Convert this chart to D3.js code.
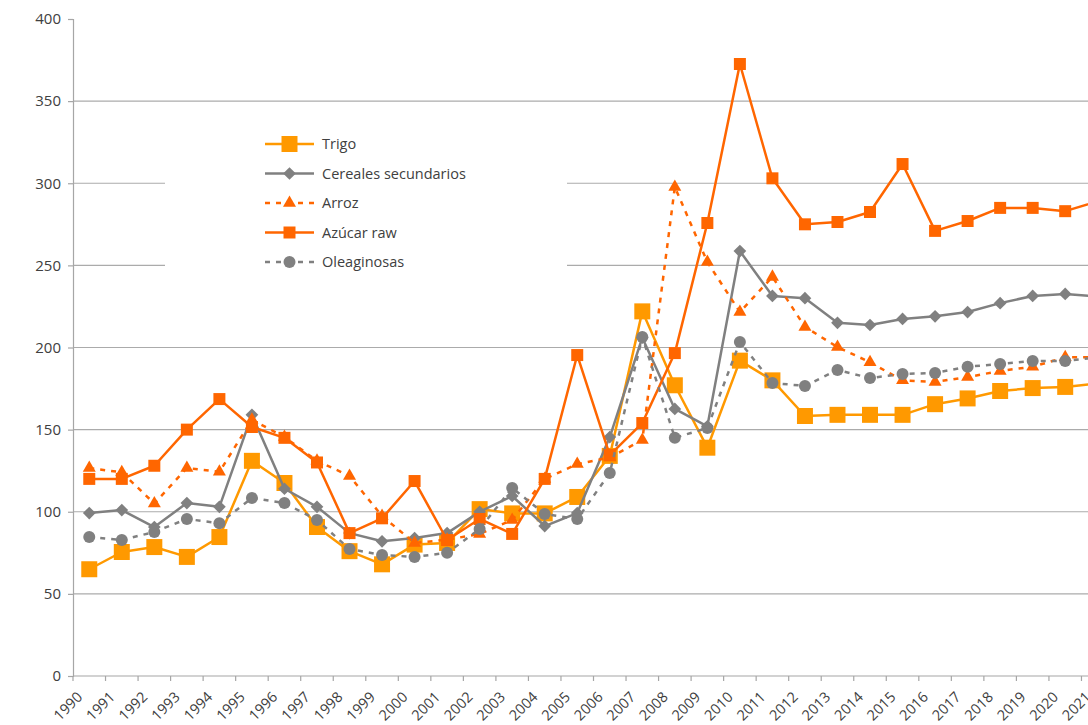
<!DOCTYPE html>
<html>
<head>
<meta charset="utf-8">
<script src="https://cdn.jsdelivr.net/npm/d3@7"></script>
<style>
  body { margin: 0; background: #fff; }
  text { font-family: "Open Sans", sans-serif; fill: #404040; }
</style>
</head>
<body>
<div id="chart"></div>
<script>
// chart data
var years = d3.range(1990, 2022);
var trigo = [65, 75.5, 78.5, 72.5, 84.6, 131, 117.5, 90.7, 76, 68, 80, 81, 101.6, 99, 99, 109,
    134, 222, 177, 139, 192, 180, 158.3, 159, 159, 159, 165.5, 169, 173.5, 175.3, 176, 178];
var cereales = [99.2, 101, 90.7, 105.3, 103, 159, 114, 103, 87, 82, 84, 87, 100, 109.6, 91.3, 99.2,
    145.5, 206, 162.6, 152, 258.7, 231.4, 230, 215, 213.7, 217.4, 219, 221.6, 227, 231.4, 232.6, 231];
var arroz = [126.6, 124, 105, 126.6, 124.3, 156, 145.5, 131, 121.8, 97.4, 81, 83, 86.5, 95, 120, 129,
    133, 143.7, 297.7, 252, 221.6, 243, 212.5, 200.3, 191, 180, 179, 182, 185.7, 188.3, 194, 194];
var azucar = [120, 120, 128, 150, 168.6, 151.6, 145, 130, 87, 96, 118.7, 82.8, 95.6, 86.5, 120, 195.4,
    134.5, 154, 196.6, 275.8, 372.6, 303, 275, 276.4, 282.5, 311.7, 271, 277, 285, 285, 283, 289];
var oleaginosas = [84.6, 82.8, 87.7, 95.6, 93, 108.4, 105.3, 95, 77.3, 73.7, 72.5, 75, 89.5, 114.5, 98.6, 95.6,
    123.6, 206.4, 145, 151, 203.4, 178.4, 176.6, 186.3, 181.4, 183.9, 184.5, 188.3, 190, 191.8, 191.8, 194];
var yTicks = [0, 50, 100, 150, 200, 250, 300, 350, 400];

var seriesNames = ["Trigo", "Cereales secundarios", "Arroz", "Azúcar raw", "Oleaginosas"];
var seriesValues = [trigo, cereales, arroz, azucar, oleaginosas];

// look of each series
var styles = [
    { color: "#FF9900", width: 2.5, dash: null, symbol: "square", size: 16 },
    { color: "#808080", width: 2.5, dash: null, symbol: "diamond", size: 9 },
    { color: "#FF6600", width: 2.5, dash: "5,6", symbol: "triangle", size: 13 },
    { color: "#FF6600", width: 2.5, dash: null, symbol: "square", size: 12 },
    { color: "#808080", width: 2.5, dash: "5,6", symbol: "circle", size: 12 }
];

var svgWidth = 1088;
var svgHeight = 725;
var margin = { top: 19, left: 73 };
var plotHeight = 657;
var plotRight = 1114; // plot continues past the cropped edge

var svg = d3.select("#chart").append("svg")
    .attr("width", svgWidth)
    .attr("height", svgHeight);

var x = d3.scaleBand()
    .domain(years)
    .range([margin.left, plotRight])
    .padding(0);

var y = d3.scaleLinear()
    .domain([0, 400])
    .range([margin.top + plotHeight, margin.top]);

function cx(year) { return x(year) + x.bandwidth() / 2; }

// gridlines
svg.append("g").selectAll("line")
    .data(yTicks.filter(d => d > 0 && d < 400))
    .enter().append("line")
    .attr("x1", margin.left)
    .attr("x2", plotRight)
    .attr("y1", d => y(d))
    .attr("y2", d => y(d))
    .attr("stroke", "#ababab")
    .attr("stroke-width", 1.2);

// y axis
var yAxis = svg.append("g")
    .attr("transform", `translate(${margin.left},0)`)
    .call(d3.axisLeft(y).tickValues(yTicks).tickSize(5).tickPadding(7));
yAxis.selectAll("line, path").attr("stroke", "#a6a6a6").attr("stroke-width", 1.2);
yAxis.selectAll("text").attr("font-size", 15).attr("fill", "#404040")
    .style("font-family", "'Open Sans', sans-serif");

// x axis: ticks between categories
var xg = svg.append("g");
xg.append("line")
    .attr("x1", margin.left).attr("x2", plotRight)
    .attr("y1", y(0)).attr("y2", y(0))
    .attr("stroke", "#a6a6a6").attr("stroke-width", 1.2);
xg.selectAll(".tick")
    .data(years)
    .enter().append("line")
    .attr("x1", d => x(d)).attr("x2", d => x(d))
    .attr("y1", y(0)).attr("y2", y(0) + 5)
    .attr("stroke", "#a6a6a6").attr("stroke-width", 1.2);
xg.selectAll("text")
    .data(years)
    .enter().append("text")
    .attr("transform", d => `translate(${cx(d) - 6},${y(0) + 22}) rotate(-45)`)
    .attr("text-anchor", "end")
    .attr("font-size", 14.5)
    .text(d => d);

// symbol shapes
function symbolPath(kind, size) {
    if (kind === "square") return d3.symbol(d3.symbolSquare, size * size)();
    if (kind === "diamond") return d3.symbol(d3.symbolSquare, size * size)();
    if (kind === "triangle") return d3.symbol(d3.symbolTriangle, Math.sqrt(3) / 4 * size * size)();
    return d3.symbol(d3.symbolCircle, Math.PI * size * size / 4)();
}
function symbolRotate(kind) { return kind === "diamond" ? " rotate(45)" : ""; }

var line = d3.line()
    .x(d => cx(d.year))
    .y(d => y(d.value));

seriesValues.forEach(function(values, i) {
    var st = styles[i];
    var pts = years.map((yr, j) => ({ year: yr, value: values[j] }));
    var g = svg.append("g");
    g.append("path")
        .datum(pts)
        .attr("d", line)
        .attr("fill", "none")
        .attr("stroke", st.color)
        .attr("stroke-width", st.width)
        .attr("stroke-dasharray", st.dash)
        .attr("stroke-linejoin", "round");
    g.selectAll("path.mark")
        .data(pts)
        .enter().append("path")
        .classed("mark", true)
        .attr("d", symbolPath(st.symbol, st.size))
        .attr("transform", d => `translate(${cx(d.year)},${y(d.value)})` + symbolRotate(st.symbol))
        .attr("fill", st.color);
});

// legend box
var legend = svg.append("g");
legend.append("rect")
    .attr("x", 165).attr("y", 115)
    .attr("width", 402).attr("height", 165)
    .attr("fill", "#fff");

var legendY = d3.scalePoint()
    .domain(seriesNames)
    .range([144, 262]);

seriesNames.forEach(function(name, i) {
    var st = styles[i];
    var ly = legendY(name);
    legend.append("line")
        .attr("x1", 265).attr("x2", 314)
        .attr("y1", ly).attr("y2", ly)
        .attr("stroke", st.color)
        .attr("stroke-width", st.width)
        .attr("stroke-dasharray", st.dash);
    legend.append("path")
        .attr("d", symbolPath(st.symbol, st.size))
        .attr("transform", `translate(289.5,${ly})` + symbolRotate(st.symbol))
        .attr("fill", st.color);
    legend.append("text")
        .attr("x", 322).attr("y", ly)
        .attr("dy", "0.35em")
        .attr("font-size", 14.5)
        .text(name);
});
</script>
</body>
</html>
